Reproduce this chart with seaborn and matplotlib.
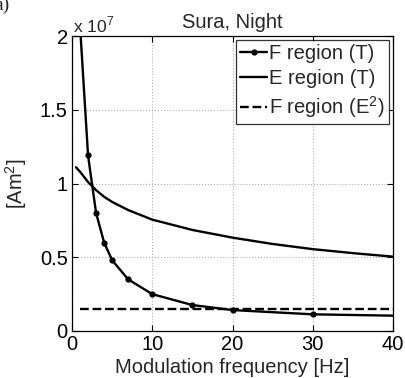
import matplotlib
matplotlib.use("Agg")
import matplotlib.pyplot as plt
import seaborn as sns
import pandas as pd

# Data
f_F = [1, 2, 3, 4, 5, 7, 10, 15, 20, 30, 40]
F_T = [2.07e7, 1.19e7, 0.80e7, 0.60e7, 0.48e7, 0.35e7, 0.25e7, 0.176e7, 0.142e7, 0.113e7, 0.104e7]

f_E = [0.5, 1, 2, 3, 4, 5, 7, 10, 15, 20, 25, 30, 35, 40]
E_T = [11.1e6, 10.8e6, 10.1e6, 9.55e6, 9.1e6, 8.75e6, 8.2e6, 7.55e6, 6.85e6, 6.33e6, 5.9e6, 5.55e6, 5.28e6, 5.04e6]

f_F2 = [1, 40]
F_E2 = [1.5e6, 1.5e6]

title = "Sura, Night"
xlabel = "Modulation frequency [Hz]"
ylabel = "[Am$^2$]"
xticks = [0, 10, 20, 30, 40]
yticks = [0, 0.5e7, 1.0e7, 1.5e7, 2.0e7]
ytick_labels = ["0", "0.5", "1", "1.5", "2"]

FS = 14.5

sns.set_style("ticks")
plt.rcParams['font.family'] = ['Liberation Sans', 'DejaVu Sans']
plt.rcParams['mathtext.fontset'] = 'custom'
plt.rcParams['mathtext.rm'] = 'Liberation Sans'

fig = plt.figure(figsize=(4.05, 3.78), dpi=100)
ax = fig.add_axes([72/405, 1-331/378, 321/405, 295/378])

dfF = pd.DataFrame({"f": f_F, "v": F_T})
dfE = pd.DataFrame({"f": f_E, "v": E_T})
dfD = pd.DataFrame({"f": f_F2, "v": F_E2})

sns.lineplot(data=dfF, x="f", y="v", ax=ax, color="black", lw=1.7, marker="o",
             markersize=4.5, markeredgewidth=0, label="F region (T)",
             markevery=list(range(len(f_F) - 1)))
sns.lineplot(data=dfE, x="f", y="v", ax=ax, color="black", lw=1.7, label="E region (T)")
sns.lineplot(data=dfD, x="f", y="v", ax=ax, color="black", lw=1.7, ls="--",
             label="F region (E$^2$)")

ax.set_xlim(0, 40)
ax.set_ylim(0, 2e7)
ax.set_xticks(xticks)
ax.set_yticks(yticks)
ax.set_yticklabels(ytick_labels)
ax.tick_params(direction="in", length=4, width=0.8, labelsize=FS, top=True, right=True,
               colors="black")
ax.tick_params(axis="x", pad=3)
ax.tick_params(axis="y", pad=3)
for s in ax.spines.values():
    s.set_visible(True)
    s.set_color("black")
    s.set_linewidth(0.9)
ax.grid(True, ls=":", color="#b0b0b0", lw=0.8)
ax.set_axisbelow(True)

ax.set_xlabel(xlabel, fontsize=FS, labelpad=3)
ax.set_ylabel(ylabel, fontsize=FS, labelpad=8)
ax.set_title(title, fontsize=FS, pad=6)

fig.text(73/405, 1 - 32/378, r"x 10$^7$", fontsize=12.5, ha="left", va="baseline")
fig.text(10/405, 1 - 10/378, "a)", fontsize=14, family="Liberation Serif",
         ha="right", va="baseline")

leg = ax.legend(loc="upper right", bbox_to_anchor=(0.9875, 0.9864), borderaxespad=0,
                fontsize=FS, frameon=True, fancybox=False, handlelength=1.35,
                handletextpad=0.1, labelspacing=0.3, borderpad=0.2)
leg.get_frame().set_edgecolor("black")
leg.get_frame().set_linewidth(0.9)

fig.savefig("out.png", dpi=100)
